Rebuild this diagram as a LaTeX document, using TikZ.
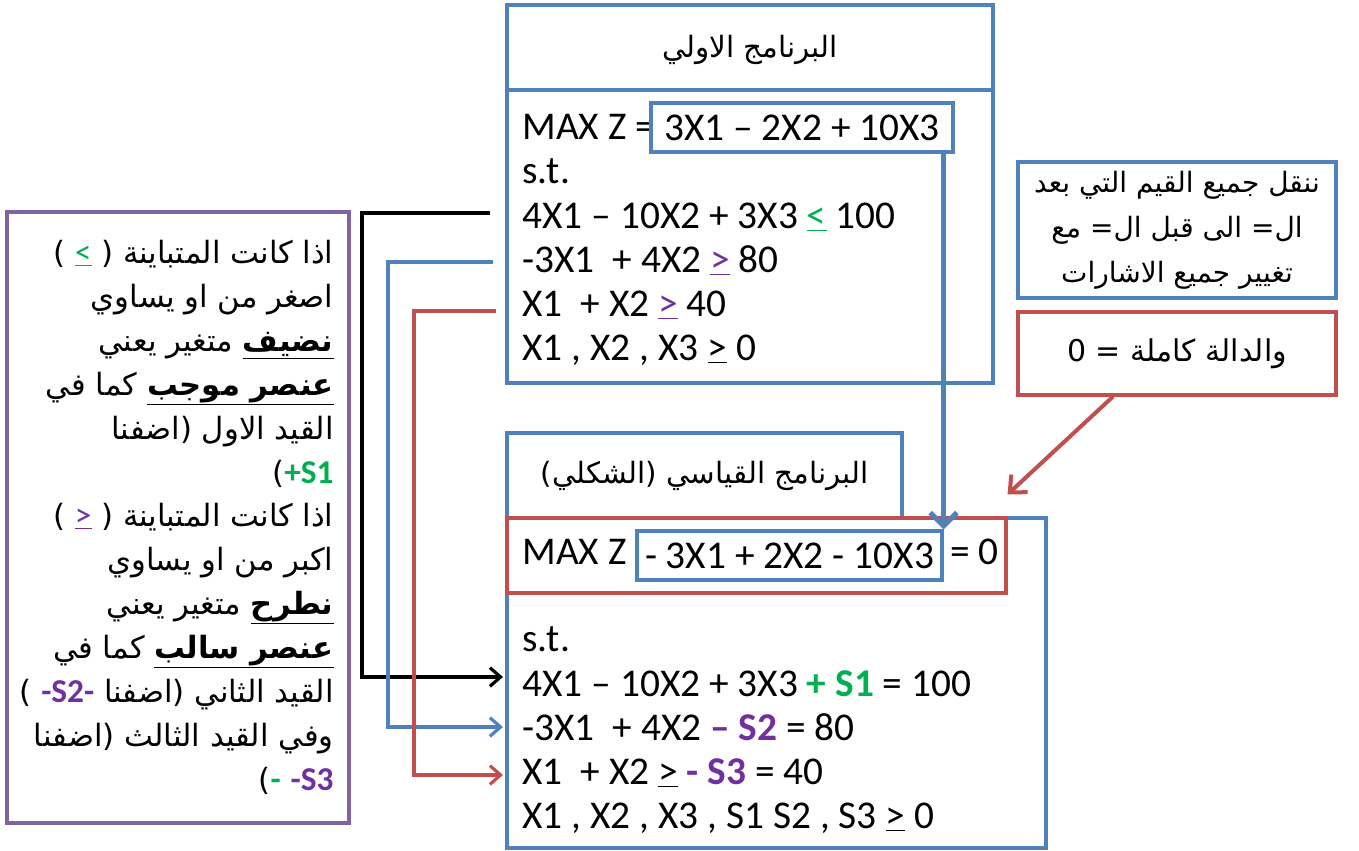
\documentclass[tikz,border=0pt]{standalone}
\usepackage{fontspec}
\setmainfont{Carlito}
\newfontfamily\arabicfont[Script=Arabic]{DejaVu Sans}
\newfontfamily\latinsans{DejaVu Sans}
\TeXXeTstate=1
\usetikzlibrary{arrows.meta,positioning}

\definecolor{boxblue}{RGB}{79,129,189}
\definecolor{boxred}{RGB}{192,80,77}
\definecolor{boxpurple}{RGB}{128,100,162}
\definecolor{txtgreen}{RGB}{0,176,80}
\definecolor{txtpurple}{RGB}{112,48,160}

\newcommand\ar[1]{\beginR#1\endR}
\newcommand\lat{\rmfamily\fontsize{25}{30}\selectfont}

\tikzset{every picture/.style={line width=0.75pt}}
\tikzset{
  bluebox/.style={draw=boxblue, line width=2.3pt},
  redbox/.style={draw=boxred, line width=2.3pt},
  purplebox/.style={draw=boxpurple, line width=2.3pt},
  prog/.style={anchor=base west, inner sep=0pt, font=\fontsize{29.5}{33}\selectfont},
  objbox/.style={bluebox, inner sep=0pt, font=\fontsize{29.5}{33}\selectfont},
  note/.style={anchor=base east, inner sep=0pt, font=\arabicfont\fontsize{23}{33}\selectfont},
  ttl/.style={inner sep=0pt, font=\arabicfont\fontsize{22}{26}\selectfont},
  conn/.style={line width=2.4pt, -{Straight Barb[length=8pt,width=14pt]}},
  bigarrow/.style={draw=boxblue, line width=3.8pt, -{Straight Barb[length=10pt,width=20pt]}},
  redarrow/.style={draw=boxred, line width=3pt, -{Straight Barb[length=10pt,width=18pt]}}
}

\begin{document}
\begin{tikzpicture}[x=0.75pt,y=0.75pt,yscale=-1,xscale=1]
\useasboundingbox (0,0) rectangle (1359,850);

%Shape: Rectangle (note on the left)
\draw[purplebox] (7,212) rectangle (349,823);
% Text Node
\node (p1) [note] at (334,263) {{\latinsans( {\lat\color{txtgreen}\underline{<}} )} \ar{اذا كانت المتباينة}};
\node (p2) [note] at (334,307) {\ar{اصغر من او يساوي}};
\node (p3) [note] at (334,351) {\ar{\underline{\bfseries نضيف} متغير يعني}};
\node (p4) [note] at (334,395) {\ar{\underline{\ar{\bfseries عنصر موجب}} كما في}};
\node (p5) [note] at (334,439) {\ar{اضفنا}{\latinsans)} \ar{القيد الاول}};
\node (p6) [note] at (334,483) {{\latinsans(}{\lat\bfseries\color{txtgreen}+S1}};
\node (p7) [note] at (334,526) {{\latinsans( {\lat\color{txtpurple}\underline{>}} )} \ar{اذا كانت المتباينة}};
\node (p8) [note] at (334,570) {\ar{اكبر من او يساوي}};
\node (p9) [note] at (334,614) {\ar{\underline{\bfseries نطرح} متغير يعني}};
\node (p10) [note] at (334,658) {\ar{\underline{\ar{\bfseries عنصر سالب}} كما في}};
\node (p11) [note] at (334,702) {{\latinsans(} {\lat\bfseries\color{txtpurple}-S2-} \ar{اضفنا}{\latinsans)} \ar{القيد الثاني}};
\node (p12) [note] at (334,746) {\ar{اضفنا}{\latinsans)} \ar{وفي القيد الثالث}};
\node (p13) [note] at (334,790) {{\latinsans(}{\lat\bfseries\color{txtgreen}-} {\lat\bfseries\color{txtpurple}-S3}};

%Shape: Rectangle (initial program)
\draw[bluebox] (507,5) rectangle (993,383);
\draw[bluebox] (507,90) -- (993,90);
% Text Node
\node (title1) [ttl] at (750,50) {\ar{البرنامج الاولي}};
\node (maxz1) [prog] at (522,139) {MAX Z =};
\node (obj1) [objbox, minimum width=302*0.75pt, minimum height=49*0.75pt] at (802,127.5) {3X1 – 2X2 + 10X3};
\node (st1) [prog] at (522,183) {s.t.};
\node (c1) [prog] at (522,228) {4X1 – 10X2 + 3X3 {\color{txtgreen}\underline{<}} 100};
\node (c2) [prog] at (522,272) {-3X1\ \ + 4X2 {\color{txtpurple}\underline{>}} 80};
\node (c3) [prog] at (522,316) {X1\ \ + X2 {\color{txtpurple}\underline{>}} 40};
\node (nn1) [prog] at (522,360) {X1 , X2 , X3 \underline{>} 0};

%Shape: Rectangle (standard program)
\draw[bluebox] (507,433) rectangle (902,518);
\draw[bluebox] (507,518) rectangle (1046,848);
\node (row2) [redbox, minimum width=499*0.75pt, minimum height=75*0.75pt] at (756.5,555.5) {};
% Text Node
\node (title2) [ttl] at (704.5,475.5) {{\latinsans(}\ar{الشكلي}{\latinsans)} \ar{البرنامج القياسي}};
\node (maxz2) [prog] at (522,564) {MAX Z};
\node (obj2) [objbox, minimum width=305*0.75pt, minimum height=49*0.75pt] at (789.5,555.5) {- 3X1 + 2X2 - 10X3};
\node (eq0) [prog] at (950,564) {= 0};
\node (st2) [prog] at (522,651) {s.t.};
\node (d1) [prog] at (522,696) {4X1 – 10X2 + 3X3 {\bfseries\color{txtgreen}+ S1} = 100};
\node (d2) [prog] at (522,740) {-3X1\ \ + 4X2 {\bfseries\color{txtpurple}– S2} = 80};
\node (d3) [prog] at (522,784) {X1\ \ + X2 \underline{>} {\bfseries\color{txtpurple}- S3} = 40};
\node (nn2) [prog] at (522,828) {X1 , X2 , X3 , S1 S2 , S3 \underline{>} 0};

%Shape: Rectangle (notes on the right)
\node (movebox) [bluebox, minimum width=318*0.75pt, minimum height=136*0.75pt, align=center, font=\arabicfont\fontsize{21}{33.75}\selectfont] at (1177,230) {\ar{ننقل جميع القيم التي بعد}\\ \ar{ال= الى قبل ال= مع}\\ \ar{تغيير جميع الاشارات}};
\node (zerobox) [redbox, minimum width=318*0.75pt, minimum height=83*0.75pt, font=\arabicfont\fontsize{22.5}{26}\selectfont] at (1177,353.5) {0 = \ar{والدالة كاملة}};

%Straight Lines
\draw[conn, black] ([shift={(-32,-15)}]c1.base west) -- ++(-128,0) |- ([shift={(-19,-19)}]d1.base west);
\draw[conn, boxblue] ([shift={(-29,-10)}]c2.base west) -- ++(-105,0) |- ([shift={(-19,-13)}]d2.base west);
\draw[conn, boxred] ([shift={(-26,-5)}]c3.base west) -- ++(-82,0) |- ([shift={(-19,-9)}]d3.base west);
\draw[bigarrow] (obj2.north east |- obj1.south) -- (obj2.north east);
\draw[redarrow] ([xshift=-48pt]zerobox.south) -- ([yshift=-16.5pt]row2.north east);

\end{tikzpicture}
\end{document}
